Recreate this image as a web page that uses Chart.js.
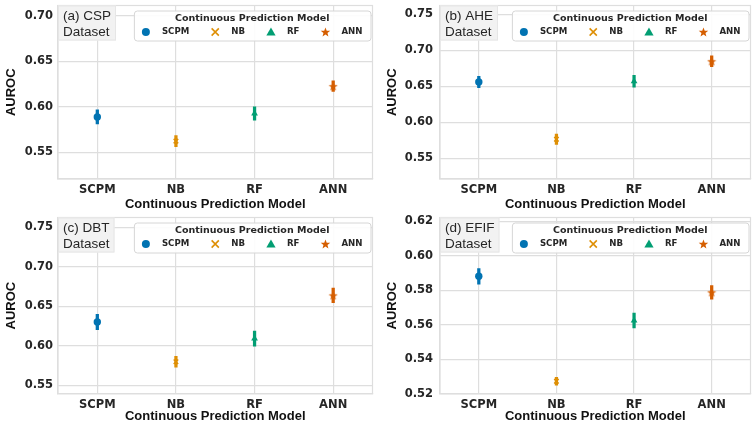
<!DOCTYPE html>
<html lang="en">
<head>
<meta charset="UTF-8">
<title>AUROC by Continuous Prediction Model</title>
<script src="https://cdn.jsdelivr.net/npm/chart.js"></script>
<style>
  body { margin: 0; background: #fff; }
  .wrap { position: relative; width: 756px; height: 427px; }
  .wrap canvas { position: absolute; }
</style>
</head>
<body>
<div class="wrap">
  <canvas id="chartCSP" width="378" height="212" style="left:0;top:0"></canvas>
  <canvas id="chartAHE" width="378" height="212" style="left:378px;top:0"></canvas>
  <canvas id="chartDBT" width="378" height="215" style="left:0;top:212px"></canvas>
  <canvas id="chartEFIF" width="378" height="215" style="left:378px;top:212px"></canvas>
</div>
<script>
// models on the x axis and their colours / marker shapes
const models = ['SCPM', 'NB', 'RF', 'ANN'];
const modelColors = ['#0173b2', '#de8f05', '#029e73', '#d55e00'];
const modelMarkers = ['circle', 'cross', 'triangle', 'star'];

// mean AUROC and half-width of the error bar, per dataset
const cspAuroc = [0.589, 0.5624, 0.5928, 0.6227];
const cspErr = [0.0077, 0.0060, 0.0073, 0.0058];
const aheAuroc = [0.656, 0.5765, 0.657, 0.6848];
const aheErr = [0.0079, 0.0073, 0.0083, 0.0076];
const dbtAuroc = [0.6302, 0.5798, 0.6092, 0.6639];
const dbtErr = [0.0098, 0.0069, 0.0095, 0.0093];
const efifAuroc = [0.5881, 0.5274, 0.5625, 0.5788];
const efifErr = [0.0045, 0.0023, 0.0043, 0.0039];

// y tick labels
const cspTicks = [0.55, 0.60, 0.65, 0.70];
const aheTicks = [0.55, 0.60, 0.65, 0.70, 0.75];
const dbtTicks = [0.55, 0.60, 0.65, 0.70, 0.75];
const efifTicks = [0.52, 0.54, 0.56, 0.58, 0.60, 0.62];

const xTitle = 'Continuous Prediction Model';
const yTitle = 'AUROC';
const legendTitle = 'Continuous Prediction Model';

const panels = [
  { id: 'chartCSP', tag: ['(a) CSP', 'Dataset'], auroc: cspAuroc, err: cspErr, ticks: cspTicks,
    yMin: 0.5208, yMax: 0.7113, axisW: 58, tickPad: 5, yTitlePad: 4, xAxisH: 33, xTitlePad: 0 },
  { id: 'chartAHE', tag: ['(b) AHE', 'Dataset'], auroc: aheAuroc, err: aheErr, ticks: aheTicks,
    yMin: 0.5213, yMax: 0.7623, axisW: 62, tickPad: 7, yTitlePad: 7, xAxisH: 33, xTitlePad: 0 },
  { id: 'chartDBT', tag: ['(c) DBT', 'Dataset'], auroc: dbtAuroc, err: dbtErr, ticks: dbtTicks,
    yMin: 0.5394, yMax: 0.7626, axisW: 58, tickPad: 5, yTitlePad: 4, xAxisH: 33.3, xTitlePad: 2.8 },
  { id: 'chartEFIF', tag: ['(d) EFIF', 'Dataset'], auroc: efifAuroc, err: efifErr, ticks: efifTicks,
    yMin: 0.5202, yMax: 0.6221, axisW: 62, tickPad: 7, yTitlePad: 7, xAxisH: 33.3, xTitlePad: 2.8 }
];

const gridColor = '#dedede';
const textColor = '#262626';

function starPath(ctx, x, y, rOut, rIn) {
  ctx.beginPath();
  for (let k = 0; k < 10; k++) {
    const r = k % 2 ? rIn : rOut;
    const a = -Math.PI / 2 + k * Math.PI / 5;
    ctx.lineTo(x + r * Math.cos(a), y + r * Math.sin(a));
  }
  ctx.closePath();
}

// filled star used as the ANN point style
const starImg = document.createElement('canvas');
starImg.width = 10;
starImg.height = 10;
(function () {
  const c = starImg.getContext('2d');
  c.fillStyle = modelColors[3];
  starPath(c, 5, 5.4, 4.8, 2.0);
  c.fill();
})();

function drawMarker(ctx, shape, x, y, color) {
  ctx.save();
  ctx.fillStyle = color;
  ctx.strokeStyle = color;
  if (shape === 'circle') {
    ctx.beginPath();
    ctx.arc(x, y, 4, 0, Math.PI * 2);
    ctx.fill();
  } else if (shape === 'cross') {
    ctx.lineWidth = 1.6;
    ctx.beginPath();
    ctx.moveTo(x - 3.6, y - 3.6); ctx.lineTo(x + 3.6, y + 3.6);
    ctx.moveTo(x + 3.6, y - 3.6); ctx.lineTo(x - 3.6, y + 3.6);
    ctx.stroke();
  } else if (shape === 'triangle') {
    ctx.beginPath();
    ctx.moveTo(x, y - 4.6);
    ctx.lineTo(x + 4.6, y + 3.6);
    ctx.lineTo(x - 4.6, y + 3.6);
    ctx.closePath();
    ctx.fill();
  } else {
    starPath(ctx, x, y + 0.4, 5, 2.1);
    ctx.fill();
  }
  ctx.restore();
}

// frame, dataset tag box and legend drawn over the plot area
const decorPlugin = {
  id: 'decor',
  afterDatasetsDraw(chart, args, opts) {
    const ctx = chart.ctx;
    const a = chart.chartArea;
    ctx.save();
    ctx.strokeStyle = gridColor;
    ctx.lineWidth = 1.2;
    ctx.strokeRect(a.left, a.top, a.right - a.left, a.bottom - a.top);

    // dataset tag in the top-left corner
    ctx.font = '13.5px "Liberation Sans", Arial, sans-serif';
    const tw = Math.max(...opts.tag.map(t => ctx.measureText(t).width));
    ctx.fillStyle = '#f2f2f2';
    ctx.fillRect(a.left, a.top, tw + 10, 35);
    ctx.strokeStyle = '#e6e6e6';
    ctx.lineWidth = 1;
    ctx.strokeRect(a.left + 0.5, a.top + 0.5, tw + 9, 34);
    ctx.fillStyle = textColor;
    ctx.textBaseline = 'middle';
    ctx.fillText(opts.tag[0], a.left + 5, a.top + 10.5);
    ctx.fillText(opts.tag[1], a.left + 5, a.top + 26.5);

    // legend in the top-right corner
    ctx.font = 'bold 8.6px "DejaVu Sans", sans-serif';
    const widths = models.map(m => ctx.measureText(m).width);
    let w = 12 + 8;
    widths.forEach((lw, i) => { w += 16 + lw + (i < widths.length - 1 ? 26 : 0); });
    const lx = a.right - 2 - w;
    const ly = a.top + 5;
    ctx.fillStyle = 'rgba(255,255,255,0.9)';
    ctx.strokeStyle = '#d6d6d6';
    ctx.beginPath();
    ctx.roundRect(lx + 0.5, ly + 0.5, w, 30, 3);
    ctx.fill();
    ctx.stroke();

    ctx.fillStyle = textColor;
    ctx.textAlign = 'center';
    ctx.font = 'bold 9.5px "DejaVu Sans", sans-serif';
    ctx.fillText(legendTitle, lx + w / 2, ly + 8.5);

    ctx.textAlign = 'left';
    ctx.font = 'bold 8.6px "DejaVu Sans", sans-serif';
    let cx = lx + 12;
    models.forEach((m, i) => {
      drawMarker(ctx, modelMarkers[i], cx, ly + 21.5, modelColors[i]);
      ctx.fillStyle = textColor;
      ctx.fillText(m, cx + 16, ly + 21.5);
      cx += 16 + widths[i] + 26;
    });
    ctx.restore();
  }
};

function pointStyleFor(i) {
  return ['circle', 'crossRot', 'triangle', starImg][i];
}

panels.forEach(p => {
  const pointSets = models.map((m, i) => ({
    type: 'scatter',
    label: m,
    data: [{ x: i, y: p.auroc[i] }],
    pointStyle: pointStyleFor(i),
    pointRadius: i === 0 ? 3.7 : (i === 1 ? 3.2 : 3.9),
    borderWidth: i === 1 ? 1.5 : 0,
    backgroundColor: modelColors[i],
    borderColor: modelColors[i]
  }));

  // error bars as thin floating bars, drawn beneath the markers
  const errSet = {
    type: 'bar',
    label: 'err',
    data: p.auroc.map((v, i) => ({ x: i, y: [v - p.err[i], v + p.err[i]] })),
    backgroundColor: modelColors,
    barThickness: 2.6,
    borderWidth: 0
  };

  new Chart(document.getElementById(p.id), {
    type: 'scatter',
    data: { datasets: [...pointSets, errSet] },
    options: {
      responsive: false,
      animation: false,
      events: [],
      layout: { padding: { top: 5, right: 1, left: 0, bottom: 0 } },
      plugins: {
        legend: { display: false },
        tooltip: { enabled: false },
        decor: { tag: p.tag }
      },
      scales: {
        x: {
          type: 'linear',
          min: -0.5,
          max: 3.5,
          offset: false,
          afterBuildTicks: s => { s.ticks = models.map((m, i) => ({ value: i })); },
          afterFit: s => {
            s.height = p.xAxisH;
            s.paddingLeft = 0;
            s.paddingRight = 0;
          },
          ticks: {
            callback: v => models[v],
            color: textColor,
            padding: 4,
            maxRotation: 0,
            font: { family: '"DejaVu Sans", sans-serif', size: 11.5, weight: 'bold' }
          },
          grid: { color: gridColor, lineWidth: 1.2, drawTicks: false, offset: false },
          border: { color: gridColor, width: 1.2 },
          title: {
            display: true,
            text: xTitle,
            color: '#111',
            padding: { top: 0, bottom: p.xTitlePad },
            font: { family: '"Liberation Sans", Arial, sans-serif', size: 13, weight: 'bold' }
          }
        },
        y: {
          min: p.yMin,
          max: p.yMax,
          afterBuildTicks: s => { s.ticks = p.ticks.map(v => ({ value: v })); },
          afterFit: s => {
            s.width = p.axisW;
            s.paddingTop = 0;
            s.paddingBottom = 0;
          },
          ticks: {
            callback: v => v.toFixed(2),
            color: textColor,
            padding: p.tickPad,
            font: { family: '"DejaVu Sans", sans-serif', size: 11.5, weight: 'bold' }
          },
          grid: { color: gridColor, lineWidth: 1.2, drawTicks: false },
          border: { color: gridColor, width: 1.2 },
          title: {
            display: true,
            text: yTitle,
            color: '#111',
            padding: { top: p.yTitlePad, bottom: 0 },
            font: { family: '"Liberation Sans", Arial, sans-serif', size: 13, weight: 'bold' }
          }
        }
      }
    },
    plugins: [decorPlugin]
  });
});
</script>
</body>
</html>
